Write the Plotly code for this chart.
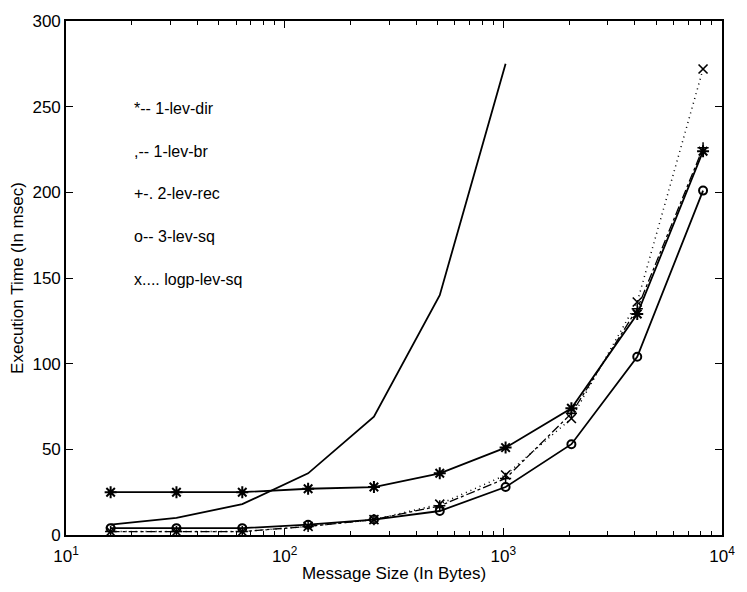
import plotly.graph_objects as go

# Message sizes (bytes) and measured execution times (msec)
sizes = [16, 32, 64, 128, 256, 512, 1024, 2048, 4096, 8192]
lev1_dir = [25, 25, 25, 27, 28, 36, 51, 74, 129, 224]
lev1_br_sizes = [16, 32, 64, 128, 256, 512, 1024]
lev1_br = [6, 10, 18, 36, 69, 140, 275]
lev2_rec = [2, 2, 2, 5, 9, 17, 33, 71, 132, 226]
lev3_sq = [4, 4, 4, 6, 9, 14, 28, 53, 104, 201]
logp_sq = [2, 2, 2, 5, 9, 18, 35, 68, 136, 272]

legend_lines = ["*-- 1-lev-dir", ",-- 1-lev-br", "+-. 2-lev-rec", "o-- 3-lev-sq", "x.... logp-lev-sq"]
x_ticks = [10, 100, 1000, 10000]
x_ticktext = ["10<sup>1</sup>", "10<sup>2</sup>", "10<sup>3</sup>", "10<sup>4</sup>"]
y_ticks = [0, 50, 100, 150, 200, 250, 300]
# log-scale minor ticks at 2..9 within each decade
x_minor = [m * 10 ** k for k in (1, 2, 3) for m in range(2, 10)]

ink = "black"
font_family = "Liberation Sans, Arial"
fig = go.Figure()

fig.add_trace(go.Scatter(x=lev1_br_sizes, y=lev1_br, mode="lines",
                         line=dict(color=ink, width=1.8), name="1-lev-br"))
fig.add_trace(go.Scatter(x=sizes, y=lev1_dir, mode="lines+markers",
                         line=dict(color=ink, width=1.8),
                         marker=dict(symbol="asterisk-open", size=10, line=dict(color=ink, width=2)),
                         name="1-lev-dir"))
fig.add_trace(go.Scatter(x=sizes, y=lev2_rec, mode="lines+markers",
                         line=dict(color=ink, width=1.3, dash="dashdot"),
                         marker=dict(symbol="cross-thin-open", size=8, line=dict(color=ink, width=1.5)),
                         name="2-lev-rec"))
fig.add_trace(go.Scatter(x=sizes, y=lev3_sq, mode="lines+markers",
                         line=dict(color=ink, width=1.8),
                         marker=dict(symbol="circle-open", size=8, line=dict(color=ink, width=2)),
                         name="3-lev-sq"))
fig.add_trace(go.Scatter(x=sizes, y=logp_sq, mode="lines+markers",
                         line=dict(color=ink, width=1.5, dash="1px,4px"),
                         marker=dict(symbol="x-thin-open", size=9, line=dict(color=ink, width=1.6)),
                         name="logp-lev-sq"))

# Text-only key in the upper left of the axes
for i, txt in enumerate(legend_lines):
    fig.add_annotation(x=0.10, y=0.83 - i * 0.083, xref="paper", yref="paper",
                       text=txt, showarrow=False, xanchor="left", yanchor="middle",
                       font=dict(family=font_family, size=16, color=ink))

axis_common = dict(showline=True, linecolor=ink, linewidth=1.6, mirror="ticks",
                   ticks="inside", tickcolor=ink, showgrid=False, zeroline=False,
                   tickfont=dict(family=font_family, size=17, color=ink))

fig.update_xaxes(type="log", range=[1, 4], tickvals=x_ticks, ticktext=x_ticktext, ticklen=7,
                 ticklabelstandoff=5,
                 minor=dict(ticks="inside", ticklen=4, tickcolor=ink, tickmode="array",
                            tickvals=x_minor, showgrid=False),
                 title=dict(text="Message Size (In Bytes)", standoff=2,
                            font=dict(family=font_family, size=17, color=ink)),
                 **axis_common)
fig.update_yaxes(range=[0, 300], tickvals=y_ticks, ticklen=7,
                 title=dict(text="Execution Time (In msec)", standoff=4,
                            font=dict(family=font_family, size=17, color=ink)),
                 **axis_common)

fig.update_layout(width=747, height=592, showlegend=False,
                  margin=dict(l=66, r=16, t=15, b=57),
                  paper_bgcolor="white", plot_bgcolor="white")

fig.write_html("out.html")
